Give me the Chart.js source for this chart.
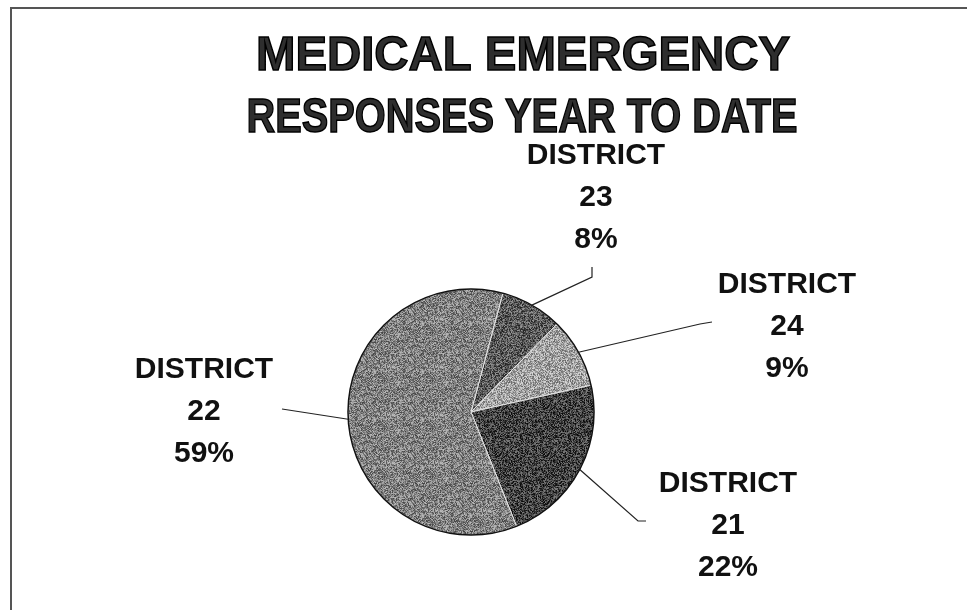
<!DOCTYPE html>
<html>
<head>
<meta charset="utf-8">
<script src="https://cdn.jsdelivr.net/npm/chart.js@4"></script>
<style>
  html, body { margin: 0; padding: 0; background: #fff; }
  #wrap { width: 967px; height: 610px; }
</style>
</head>
<body>
<div id="wrap"><canvas id="grafico" width="967" height="610"></canvas></div>
<script>
// values, clockwise from 12 o'clock
const districts = ["23", "24", "21", "22"];
const shares = [8, 9, 22, 59];
const titleLines = ["MEDICAL EMERGENCY", "RESPONSES YEAR TO DATE"];
const sliceGrays = [92, 160, 66, 128];

// where each label block sits and where its leader line bends/ends
const labelPos = [
  { x: 596, y: 164, path: [[592, 277], [592, 267]] },
  { x: 787, y: 293, path: [[700, 324], [712, 322]] },
  { x: 728, y: 492, path: [[638, 521], [646, 521]] },
  { x: 204, y: 378, path: [[282, 409]] }
];

// grainy fill, like the scanned print
function textura(gray) {
  const c = document.createElement("canvas");
  c.width = 48; c.height = 48;
  const g = c.getContext("2d");
  const img = g.createImageData(48, 48);
  let s = 12345 + gray;
  for (let i = 0; i < 48 * 48; i++) {
    s = (s * 1103515245 + 12345) & 0x7fffffff;
    const n = ((s >> 8) % 120) - 60;
    const v = Math.max(0, Math.min(255, gray + n));
    img.data[i * 4] = v; img.data[i * 4 + 1] = v; img.data[i * 4 + 2] = v; img.data[i * 4 + 3] = 255;
  }
  g.putImageData(img, 0, 0);
  return g.createPattern(c, "repeat");
}

function textoAjustado(ctx, t, cx, y, largura) {
  const w = ctx.measureText(t).width;
  ctx.save();
  ctx.translate(cx, y);
  ctx.scale(largura / w, 1);
  ctx.fillText(t, 0, 0);
  ctx.strokeText(t, 0, 0);
  ctx.restore();
}

const decoracao = {
  id: "decoracao",
  beforeDraw(chart) {
    const ctx = chart.ctx;
    ctx.save();
    ctx.fillStyle = "#fff";
    ctx.fillRect(0, 0, chart.width, chart.height);
    ctx.strokeStyle = "#555";
    ctx.lineWidth = 2;
    ctx.beginPath();
    ctx.moveTo(11, chart.height);
    ctx.lineTo(11, 8);
    ctx.lineTo(chart.width, 8);
    ctx.stroke();
    ctx.restore();
  },
  afterDatasetsDraw(chart) {
    const ctx = chart.ctx;
    const arcs = chart.getDatasetMeta(0).data;
    const a0 = arcs[0];
    ctx.save();
    // outline of the pie
    ctx.strokeStyle = "#111";
    ctx.lineWidth = 1.5;
    ctx.beginPath();
    ctx.arc(a0.x, a0.y, a0.outerRadius, 0, Math.PI * 2);
    ctx.stroke();

    // title
    ctx.font = "bold 48px 'Liberation Sans', Arial, sans-serif";
    ctx.textAlign = "center";
    ctx.textBaseline = "alphabetic";
    ctx.fillStyle = "#2e2e2e";
    ctx.strokeStyle = "#000";
    ctx.lineWidth = 1.5;
    textoAjustado(ctx, titleLines[0], 523, 70, 534);
    textoAjustado(ctx, titleLines[1], 522, 132, 551);

    // leader lines and labels
    arcs.forEach((arc, i) => {
      const mid = (arc.startAngle + arc.endAngle) / 2;
      const sx = arc.x + Math.cos(mid) * arc.outerRadius;
      const sy = arc.y + Math.sin(mid) * arc.outerRadius;
      const lp = labelPos[i];
      ctx.strokeStyle = "#222";
      ctx.lineWidth = 1.2;
      ctx.beginPath();
      ctx.moveTo(sx, sy);
      lp.path.forEach(p => ctx.lineTo(p[0], p[1]));
      ctx.stroke();

      ctx.font = "bold 30px 'Liberation Sans', Arial, sans-serif";
      ctx.fillStyle = "#111";
      const linhas = ["DISTRICT", districts[i], shares[i] + "%"];
      linhas.forEach((t, j) => ctx.fillText(t, lp.x, lp.y + j * 42));
    });
    ctx.restore();
  }
};

const ctx = document.getElementById("grafico").getContext("2d");
const chart = new Chart(ctx, {
  type: "pie",
  data: {
    labels: districts.map(d => "DISTRICT " + d),
    datasets: [{
      data: shares,
      backgroundColor: sliceGrays.map(textura),
      borderColor: "#e6e6e6",
      borderWidth: 1,
      radius: 123
    }]
  },
  options: {
    responsive: false,
    animation: false,
    rotation: 15,
    layout: { padding: { left: 200, right: 225, top: 250, bottom: 36 } },
    plugins: {
      legend: { display: false },
      tooltip: { enabled: false },
      title: { display: false }
    }
  },
  plugins: [decoracao]
});
</script>
</body>
</html>
